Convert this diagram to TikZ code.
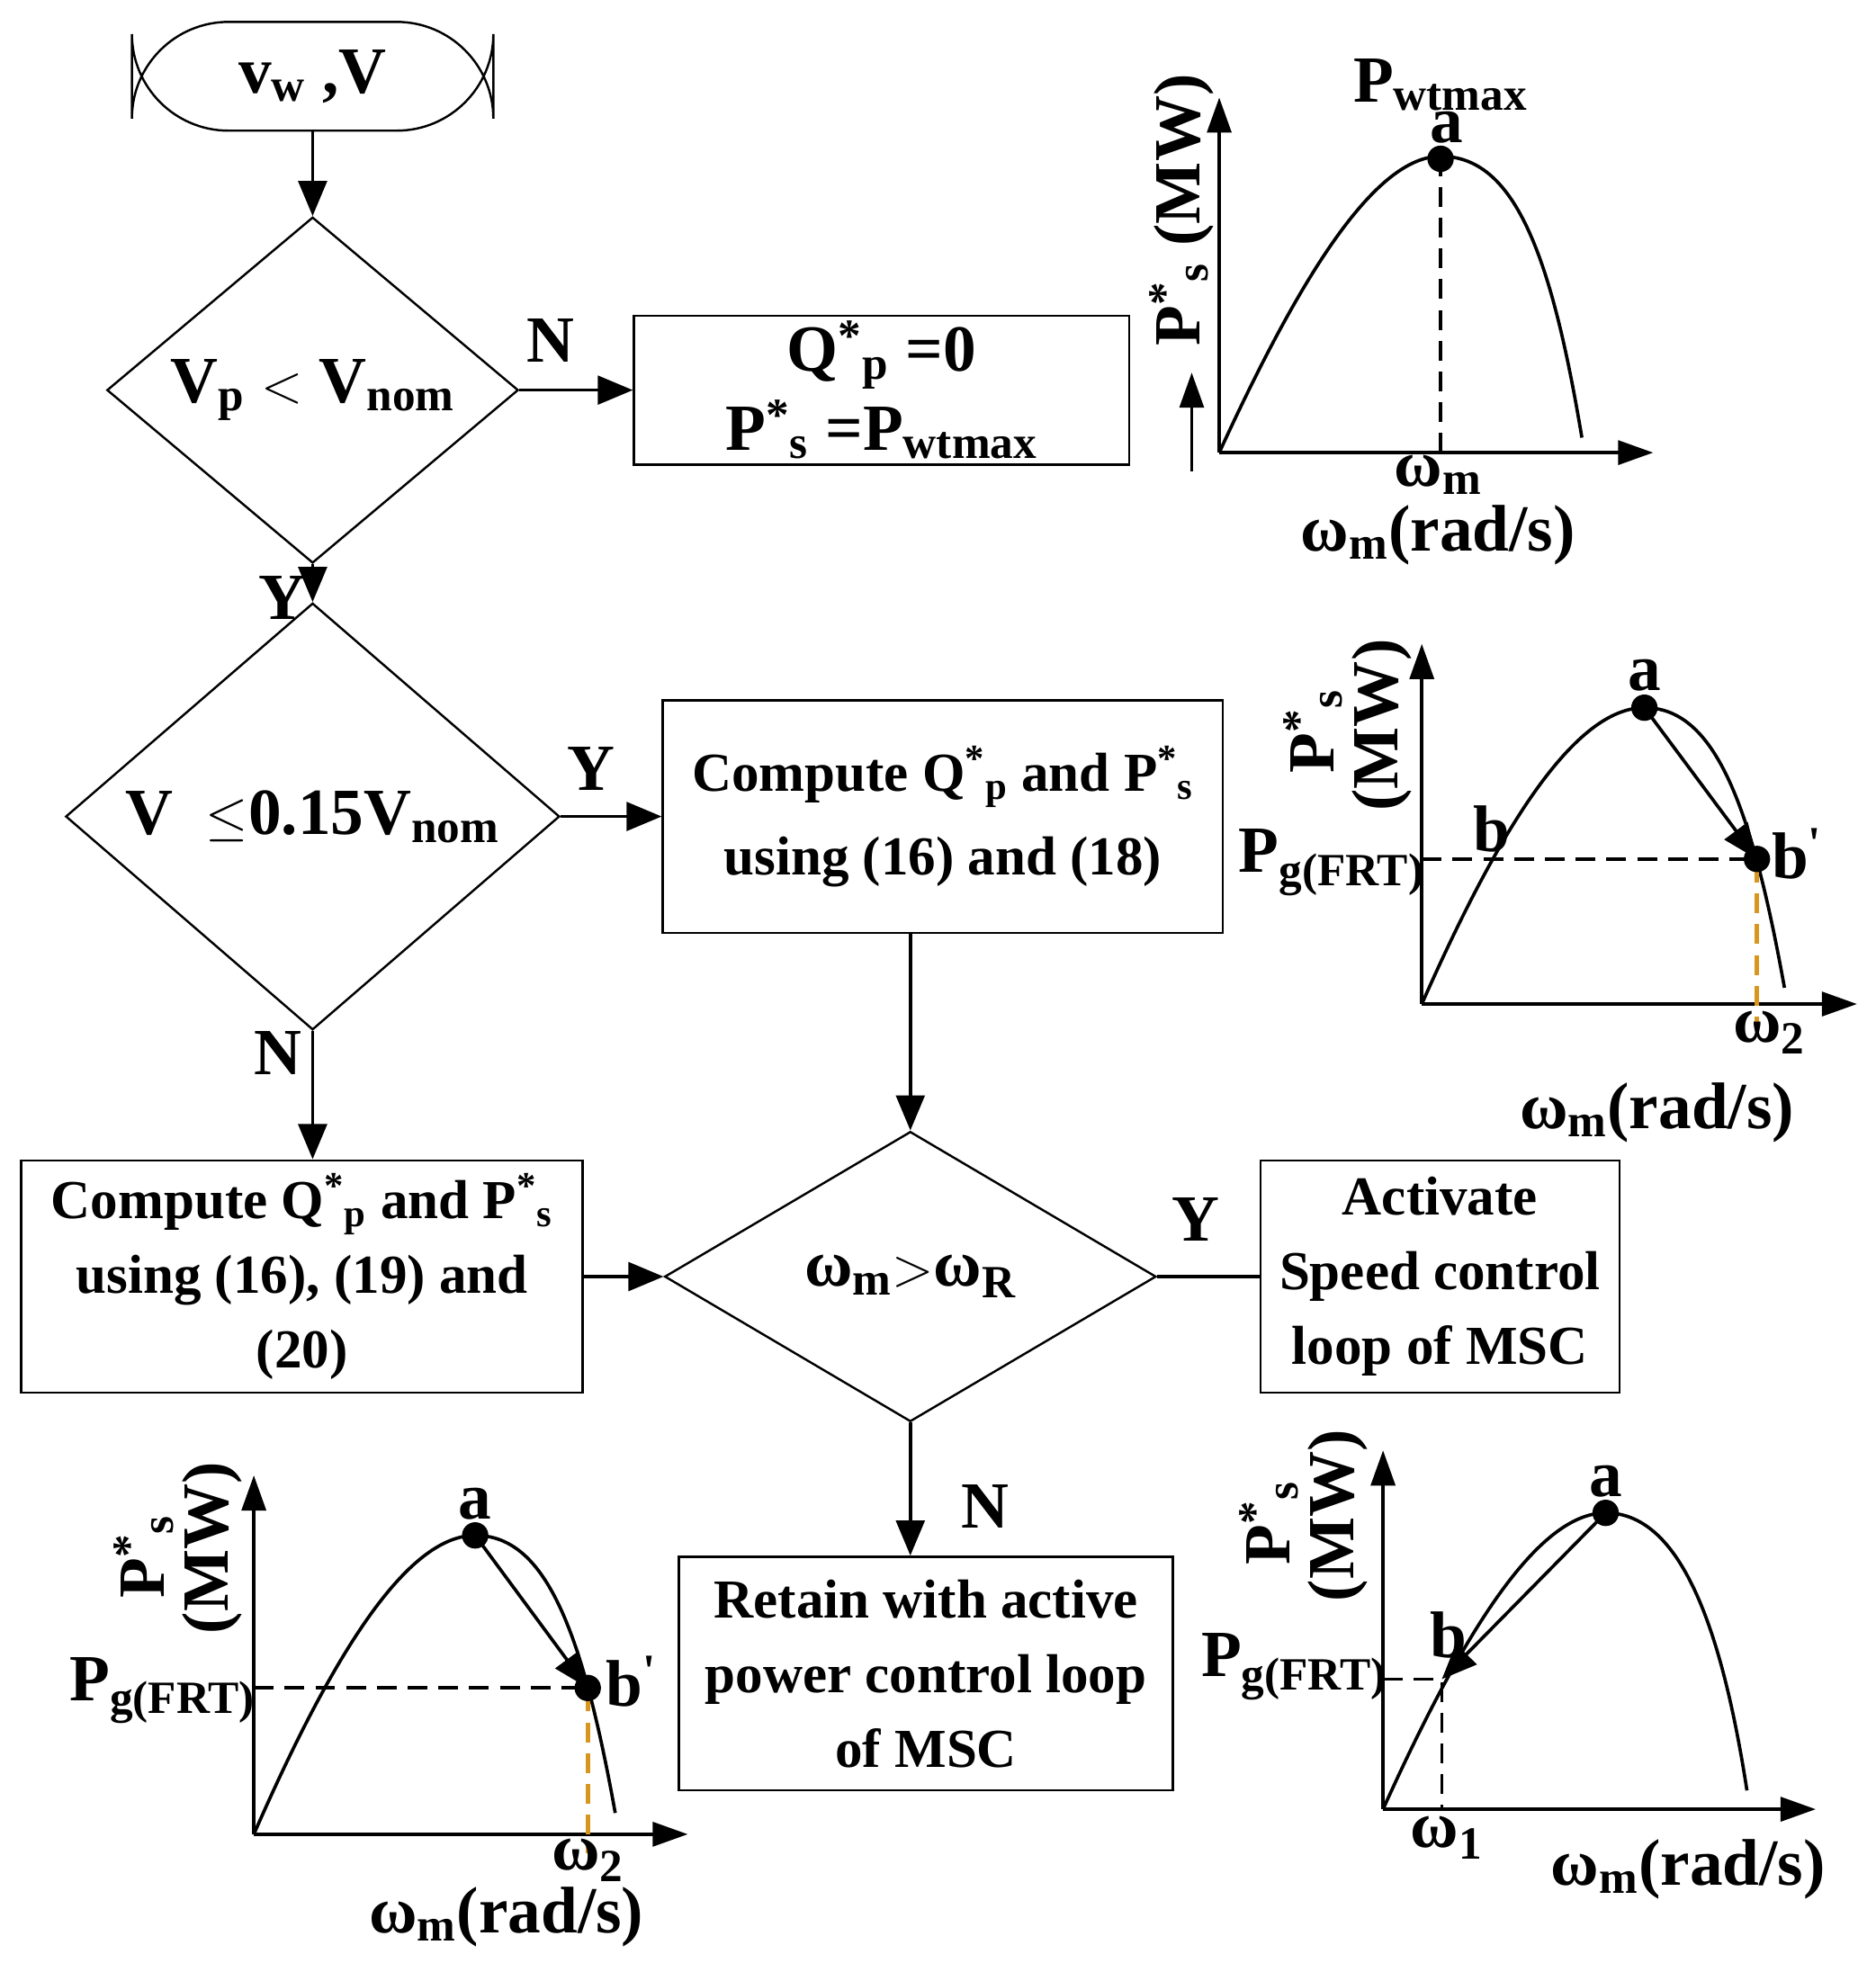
\documentclass[tikz,border=0pt]{standalone}
\usepackage{fontspec}
\setmainfont{Liberation Serif}
\usetikzlibrary{shapes.geometric,arrows.meta}
\newcommand\myom{ω}
\begin{document}
\begin{tikzpicture}[x=0.02cm,y=-0.02cm,line width=1.5pt,
  every node/.style={font=\fontsize{24}{32}\selectfont\bfseries},
  box/.style={draw,line width=1pt,inner sep=0pt,align=center},
  dia/.style={draw,line width=1pt,diamond,inner sep=0pt},
  arr/.style={-{Triangle[length=16pt,width=13pt]}},
  lab/.style={font=\fontsize{30}{34}\selectfont\bfseries},
  ax/.style={-{Triangle[length=16pt,width=11pt]}},
  dsh/.style={dash pattern=on 9pt off 5pt},
  od/.style={dash pattern=on 9pt off 5pt,draw={rgb,255:red,215;green,150;blue,30},line width=2.2pt}]
\useasboundingbox (0,0) rectangle (1500,1570);
% flowchart
\node[draw,line width=1pt,rounded corners=44pt,minimum width=289*0.02cm,minimum height=87*0.02cm,font=\fontsize{30}{34}\selectfont\bfseries] (st) at (250,61) {v\textsubscript{w} ,V};
\node[dia,minimum width=329*0.02cm,minimum height=233*0.02cm,font=\fontsize{30}{34}\selectfont\bfseries] (d1) at (250,312) {V\textsubscript{p} $<$ V\textsubscript{nom}};
\node[box,minimum width=396*0.02cm,minimum height=119*0.02cm,font=\fontsize{30}{36}\selectfont\bfseries] (b1) at (705,312) {Q\textsuperscript{*}\textsubscript{p} =0\\P\textsuperscript{*}\textsubscript{s} =P\textsubscript{wtmax}};
\node[dia,minimum width=395*0.02cm,minimum height=233*0.02cm,font=\fontsize{30}{34}\selectfont\bfseries] (d2) at (250,653) {V \ $\leq$0.15V\textsubscript{nom}};
\node[box,minimum width=448*0.02cm,minimum height=186*0.02cm,font=\fontsize{25}{38}\selectfont\bfseries] (b2) at (754,653) {Compute Q\textsuperscript{*}\textsubscript{p} and P\textsuperscript{*}\textsubscript{s}\\using (16) and (18)};
\node[dia,minimum width=393*0.02cm,minimum height=232*0.02cm,font=\fontsize{30}{34}\selectfont\bfseries] (d3) at (728,1021) {\myom\textsubscript{m}$>$\myom\textsubscript{R}};
\node[box,minimum width=449*0.02cm,minimum height=186*0.02cm,font=\fontsize{25}{34}\selectfont\bfseries] (b3) at (241.5,1021) {Compute Q\textsuperscript{*}\textsubscript{p} and P\textsuperscript{*}\textsubscript{s}\\using (16), (19) and\\(20)};
\node[box,minimum width=287*0.02cm,minimum height=186*0.02cm,font=\fontsize{25}{34}\selectfont\bfseries] (b4) at (1151.5,1021) {Activate\\Speed control\\loop of MSC};
\node[box,minimum width=395*0.02cm,minimum height=187*0.02cm,font=\fontsize{25}{34}\selectfont\bfseries] (b5) at (740.5,1338.5) {Retain with active\\power control loop\\of MSC};
\draw[arr] (st) -- (d1);
\draw[arr] (d1.east) -- (b1.west);
\draw[arr] (d1.south) -- (d2.north);
\draw[arr] (d2.east) -- (b2.west);
\draw[arr] (b2.south -| d3.north) -- (d3.north);
\draw[arr] (d2.south) -- (b3.north -| d2.south);
\draw[arr] (b3.east) -- (d3.west);
\draw (d3.east) -- (b4.west);
\draw[arr] (d3.south) -- (b5.north -| d3.south);
\node[lab] at (440,272) {N};
\node[lab] at (226,478) {Y};
\node[lab] at (473,615) {Y};
\node[lab] at (222,842) {N};
\node[lab] at (956,975) {Y};
\node[lab] at (788,1205) {N};
% graph 1
\draw[ax] (975,362) -- (975,78);
\draw[ax] (975,362) -- (1322,362);
\draw (975,362) .. controls (1040,220) and (1100,125) .. (1152,125) .. controls (1210,125) and (1240,200) .. (1265,350);
\draw[dsh] (1152,125) -- (1152,362);
\fill (1152,127) circle (6pt);
\node[lab] at (1157,102) {a};
\node[lab] at (1152,68) {P\textsubscript{wtmax}};
\node[lab] at (1150,380) {\myom\textsubscript{m}};
\node[lab] at (1150,428) {\myom\textsubscript{m}(rad/s)};
\node[lab,rotate=90] at (945,168) {P\textsuperscript{*}\textsubscript{s} (MW)};
\draw[ax] (953,377) -- (953,298);
% graph 2
\draw[ax] (1137,803) -- (1137,515);
\draw[ax] (1137,803) -- (1485,803);
\draw (1137,803) .. controls (1200,660) and (1260,566) .. (1315,566) .. controls (1370,566) and (1400,640) .. (1427,790);
\draw[arr] (1315,566) -- (1405,687);
\draw[dsh] (1137,687) -- (1405,687);
\draw[od] (1405,690) -- (1405,822);
\fill (1315,566) circle (6pt); \fill (1405,687) circle (6pt);
\node[lab] at (1315,540) {a};
\node[lab] at (1193,663) {b};
\node[lab] at (1437,683) {b\textsuperscript{\textquotesingle}};
\node[lab] at (1065,690) {P\textsubscript{g(FRT)}};
\node[lab] at (1415,826) {\myom\textsubscript{2}};
\node[lab] at (1325,890) {\myom\textsubscript{m}(rad/s)};
\node[lab,rotate=90] at (1050,585) {P\textsuperscript{*}\textsubscript{s}};
\node[lab,rotate=90] at (1105,580) {(MW)};
% graph 3
\draw[ax] (203,1467) -- (203,1180);
\draw[ax] (203,1467) -- (550,1467);
\draw (203,1467) .. controls (265,1325) and (325,1228) .. (380,1228) .. controls (435,1228) and (465,1300) .. (492,1450);
\draw[arr] (380,1228) -- (470,1350);
\draw[dsh] (203,1350) -- (470,1350);
\draw[od] (470,1353) -- (470,1482);
\fill (380,1228) circle (6pt); \fill (470,1350) circle (6pt);
\node[lab] at (380,1203) {a};
\node[lab] at (505,1345) {b\textsuperscript{\textquotesingle}};
\node[lab] at (130,1352) {P\textsubscript{g(FRT)}};
\node[lab] at (470,1488) {\myom\textsubscript{2}};
\node[lab] at (405,1533) {\myom\textsubscript{m}(rad/s)};
\node[lab,rotate=90] at (115,1245) {P\textsuperscript{*}\textsubscript{s}};
\node[lab,rotate=90] at (170,1238) {(MW)};
% graph 4
\draw[ax] (1106,1447) -- (1106,1160);
\draw[ax] (1106,1447) -- (1452,1447);
\draw (1106,1447) .. controls (1170,1305) and (1230,1210) .. (1284,1210) .. controls (1340,1210) and (1375,1290) .. (1397,1432);
\draw[arr] (1284,1210) -- (1153,1343);
\draw[dsh] (1106,1343) -- (1153,1343) -- (1153,1447);
\fill (1284,1210) circle (6pt);
\node[lab] at (1284,1185) {a};
\node[lab] at (1158,1308) {b};
\node[lab] at (1035,1333) {P\textsubscript{g(FRT)}};
\node[lab] at (1157,1470) {\myom\textsubscript{1}};
\node[lab] at (1350,1495) {\myom\textsubscript{m}(rad/s)};
\node[lab,rotate=90] at (1015,1218) {P\textsuperscript{*}\textsubscript{s}};
\node[lab,rotate=90] at (1070,1212) {(MW)};
\end{tikzpicture}
\end{document}
